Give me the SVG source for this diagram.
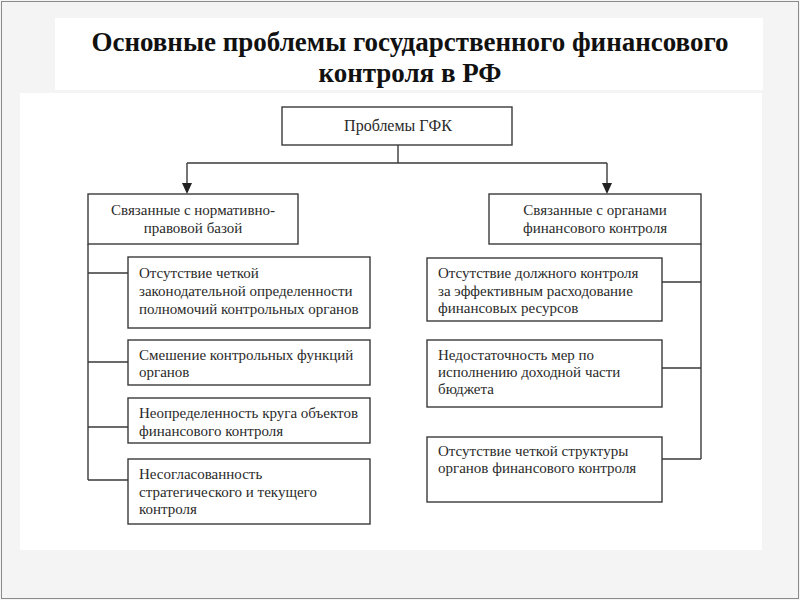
<svg xmlns="http://www.w3.org/2000/svg" width="800" height="600" viewBox="0 0 800 600">
<style>
.box{fill:#fff;stroke:#3a3a3a;stroke-width:1.4}
.t{font-family:"Liberation Serif","Times New Roman",serif;font-size:15px;fill:#2a2a2a}
.c{text-anchor:middle}
.ln{fill:none;stroke:#3a3a3a;stroke-width:1.4}
.title{font-family:"Liberation Serif","Times New Roman",serif;font-weight:bold;font-size:27px;fill:#111;text-anchor:middle}
</style>
<rect x="0" y="0" width="800" height="600" fill="#f4f4f4"/>
<rect x="1.5" y="1.5" width="797" height="597" fill="none" stroke="#8a8a8a" stroke-width="1"/>
<rect x="55" y="18" width="708" height="72" fill="#fff"/>
<rect x="20" y="93" width="742" height="457" fill="#fff"/>
<g id="title">
<text class="title" x="410" y="51">Основные проблемы государственного финансового</text>
<text class="title" x="410" y="82">контроля в РФ</text>
</g>
<g id="connectors">
<path class="ln" d="M398,145 V163 M187,163 H607"/>
<path class="ln" d="M187,163 V187"/>
<path d="M182,183 L192,183 L187,194 Z" fill="#222"/>
<path class="ln" d="M607,163 V187"/>
<path d="M602,183 L612,183 L607,194 Z" fill="#222"/>
<path class="ln" d="M88,244 V480 M88,273 H128 M88,362 H128 M88,427 H128 M88,480 H128"/>
<path class="ln" d="M701,244 V459 M662,282 H701 M662,368 H701 M662,459 H701"/>
</g>
<g id="root">
<rect class="box" x="282" y="107" width="230" height="38"/>
<text class="t c" x="398" y="131" style="font-size:16px">Проблемы ГФК</text>
</g>
<g id="left">
<rect class="box" x="88" y="194" width="210" height="50"/>
<text class="t c" x="193" y="215">Связанные с нормативно-</text>
<text class="t c" x="193" y="233">правовой базой</text>
</g>
<g id="right">
<rect class="box" x="489" y="194" width="212" height="50"/>
<text class="t c" x="595" y="215">Связанные с органами</text>
<text class="t c" x="595" y="233">финансового контроля</text>
</g>
<g id="l1">
<rect class="box" x="128" y="257" width="242" height="71"/>
<text class="t" x="139" y="278">Отсутствие четкой</text>
<text class="t" x="139" y="296">законодательной определенности</text>
<text class="t" x="139" y="314">полномочий контрольных органов</text>
</g>
<g id="l2">
<rect class="box" x="128" y="340" width="242" height="45"/>
<text class="t" x="139" y="360">Смешение контрольных функций</text>
<text class="t" x="139" y="377">органов</text>
</g>
<g id="l3">
<rect class="box" x="128" y="398" width="242" height="45"/>
<text class="t" x="139" y="418">Неопределенность круга объектов</text>
<text class="t" x="139" y="436">финансового контроля</text>
</g>
<g id="l4">
<rect class="box" x="128" y="459" width="242" height="65"/>
<text class="t" x="139" y="479">Несогласованность</text>
<text class="t" x="139" y="497">стратегического и текущего</text>
<text class="t" x="139" y="514">контроля</text>
</g>
<g id="r1">
<rect class="box" x="427" y="258" width="235" height="63"/>
<text class="t" x="438" y="278">Отсутствие должного контроля</text>
<text class="t" x="438" y="296">за эффективным расходование</text>
<text class="t" x="438" y="313">финансовых ресурсов</text>
</g>
<g id="r2">
<rect class="box" x="427" y="340" width="235" height="67"/>
<text class="t" x="438" y="360">Недостаточность мер по</text>
<text class="t" x="438" y="377">исполнению доходной части</text>
<text class="t" x="438" y="394">бюджета</text>
</g>
<g id="r3">
<rect class="box" x="427" y="437" width="235" height="65"/>
<text class="t" x="438" y="456">Отсутствие четкой структуры</text>
<text class="t" x="438" y="473">органов финансового контроля</text>
</g>
</svg>
